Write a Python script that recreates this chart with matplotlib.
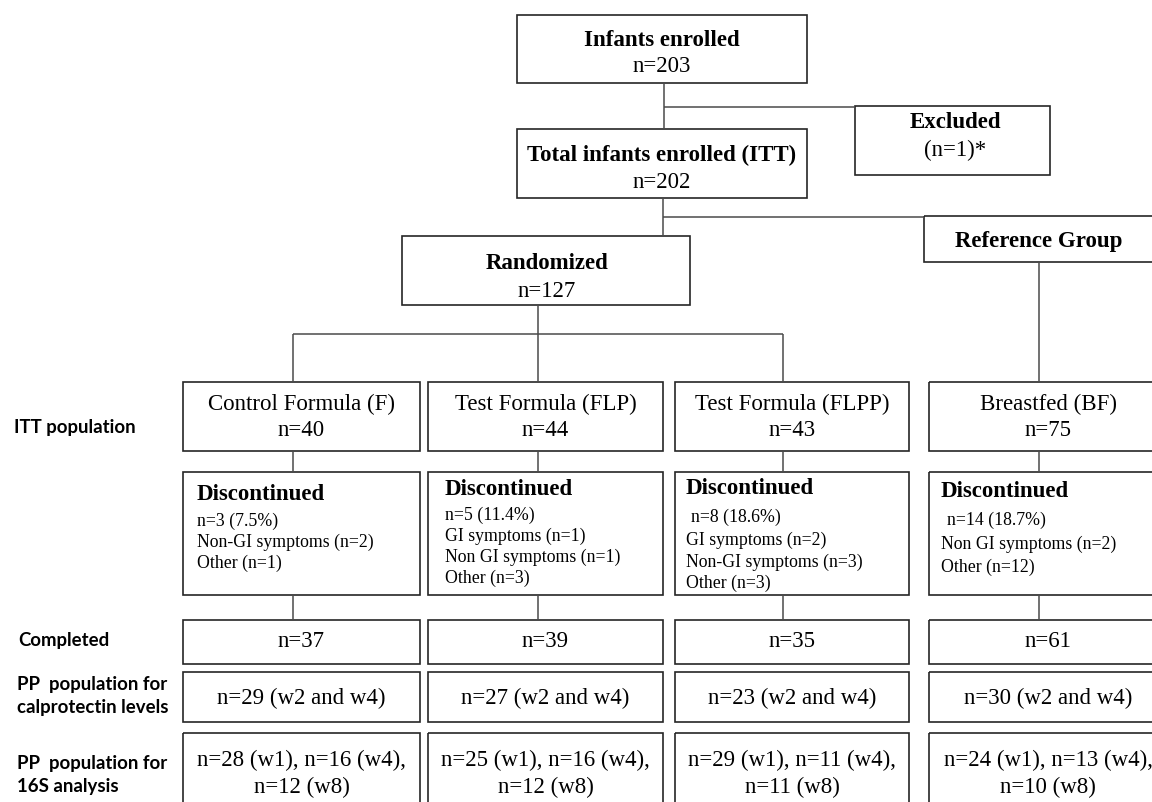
import matplotlib
matplotlib.use('Agg')
import matplotlib.pyplot as plt
from matplotlib.patches import Rectangle

# data
groups = ['Control Formula (F)', 'Test Formula (FLP)', 'Test Formula (FLPP)', 'Breastfed (BF)']
itt_n = [40, 44, 43, 75]
disc_n = [3, 5, 8, 14]
disc_pct = ['7.5%', '11.4%', '18.6%', '18.7%']
disc_reasons = [['Non-GI symptoms (n=2)', 'Other (n=1)'],
                ['GI symptoms (n=1)', 'Non GI symptoms (n=1)', 'Other (n=3)'],
                ['GI symptoms (n=2)', 'Non-GI symptoms (n=3)', 'Other (n=3)'],
                ['Non GI symptoms (n=2)', 'Other (n=12)']]
completed_n = [37, 39, 35, 61]
calpro_n = [29, 27, 23, 30]
s16_w1 = [28, 25, 29, 24]
s16_w4 = [16, 16, 11, 13]
s16_w8 = [12, 12, 11, 10]
enrolled_n = 203
excluded_n = 1
itt_total_n = 202
randomized_n = 127
row_labels = ['ITT population', 'Completed', 'PP  population for\ncalprotectin levels',
              'PP  population for\n16S analysis']

# layout (pixels)
SERIF = 'Liberation Serif'
SANS = 'Lato'
BOX = '#262626'
LINE = '#4a4a4a'
MAIN = 16.5
SMALL = 12.8
col_l = [183, 428, 675, 929]
col_r = [420, 663, 909, 1170]
col_c = [293, 538, 783, 1039]
rows = {'itt': (383, 452), 'disc': (473, 596), 'comp': (621, 665),
        'cal': (673, 723), 's16': (734, 820)}
disc_x = [197, 445, 686, 941]
disc_indent = [0, 0, 5, 6]
disc_y = [[495, 521, 542, 563], [490, 515, 536, 557, 578],
          [489, 517, 540, 562, 583], [492, 520, 544, 567]]
label_pos = [(14, 428), (18, 641), (17, 696), (17, 775)]

fig = plt.figure(figsize=(11.52, 8.03), dpi=100)
ax = fig.add_axes([0, 0, 1, 1])
ax.set_xlim(0, 1152)
ax.set_ylim(803, 0)
ax.axis('off')


def box(x0, y0, x1, y1):
    ax.add_patch(Rectangle((x0, y0), x1 - x0, y1 - y0, fill=False, ec=BOX, lw=1.2))


def line(x0, y0, x1, y1):
    ax.plot([x0, x1], [y0, y1], color=LINE, lw=1.1, solid_capstyle='butt')


def txt(x, y, s, size=MAIN, bold=False, ha='center', family=SERIF):
    ax.text(x, y, s, fontsize=size, ha=ha, va='center', family=family,
            fontweight='bold' if bold else 'normal', color='black')


# top part
box(517, 16, 807, 84)
txt(662, 40, 'Infants enrolled', bold=True)
txt(662, 67, 'n=%d' % enrolled_n)
line(664, 84, 664, 130)
line(664, 108, 855, 108)
box(855, 107, 1050, 176)
txt(955, 122, 'Excluded', bold=True)
txt(955, 150, '(n=%d)*' % excluded_n)
box(517, 130, 807, 199)
txt(662, 155, 'Total infants enrolled (ITT)', bold=True)
txt(662, 183, 'n=%d' % itt_total_n)
line(663, 199, 663, 237)
line(663, 218, 924, 218)
box(924, 217, 1200, 263)
txt(1039, 241, 'Reference Group', bold=True)
box(402, 237, 690, 306)
txt(547, 264, 'Randomized', bold=True)
txt(547, 292, 'n=%d' % randomized_n)
line(538, 306, 538, 383)
line(col_c[0], 335, col_c[2], 335)
line(col_c[0], 335, col_c[0], 383)
line(col_c[2], 335, col_c[2], 383)
line(col_c[3], 263, col_c[3], 383)

# group columns
for i in range(4):
    xl, xr = col_l[i], col_r[i]
    xc = (xl + xr) / 2 if i < 3 else 1048
    y0, y1 = rows['itt']
    box(xl, y0, xr, y1)
    txt(xc, 404, groups[i])
    txt(xc, 431, 'n=%d' % itt_n[i])
    line(col_c[i], rows['itt'][1], col_c[i], rows['disc'][0])

    y0, y1 = rows['disc']
    box(xl, y0, xr, y1)
    ys = disc_y[i]
    txt(disc_x[i], ys[0], 'Discontinued', bold=True, ha='left')
    txt(disc_x[i] + disc_indent[i], ys[1], 'n=%d (%s)' % (disc_n[i], disc_pct[i]), SMALL, ha='left')
    for s, y in zip(disc_reasons[i], ys[2:]):
        txt(disc_x[i], y, s, SMALL, ha='left')
    line(col_c[i], rows['disc'][1], col_c[i], rows['comp'][0])

    y0, y1 = rows['comp']
    box(xl, y0, xr, y1)
    txt(xc, 642, 'n=%d' % completed_n[i])

    y0, y1 = rows['cal']
    box(xl, y0, xr, y1)
    txt(xc, 698, 'n=%d (w2 and w4)' % calpro_n[i])

    y0, y1 = rows['s16']
    box(xl, y0, xr, y1)
    txt(xc, 760, 'n=%d (w1), n=%d (w4),' % (s16_w1[i], s16_w4[i]))
    txt(xc, 787, 'n=%d (w8)' % s16_w8[i])

# row labels on the left
for s, (x, y) in zip(row_labels, label_pos):
    ax.text(x, y, s, fontsize=13.4, ha='left', va='center', family=SANS,
            fontweight='bold', linespacing=1.4)

fig.savefig('out.png', dpi=100)
